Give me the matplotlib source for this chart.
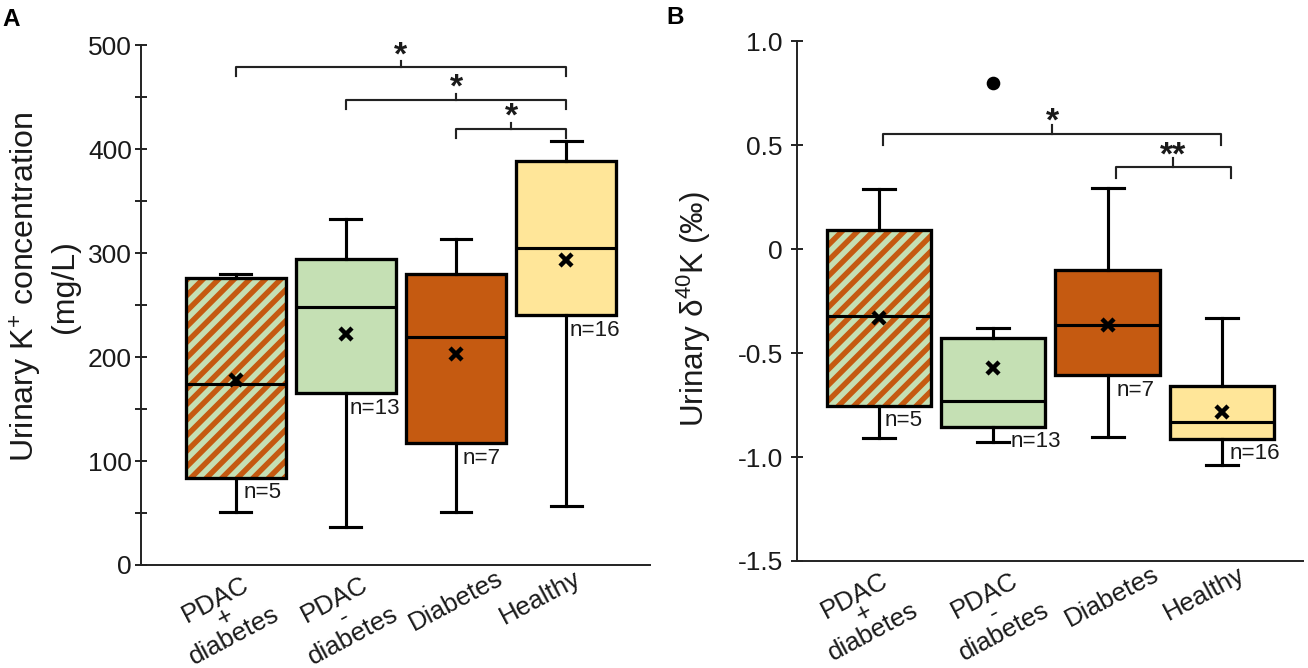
import matplotlib
matplotlib.use("Agg")
import matplotlib.pyplot as plt
from matplotlib.patches import PathPatch
from matplotlib.transforms import ScaledTranslation

plt.rcParams['font.family'] = ['Liberation Sans', 'DejaVu Sans']
plt.rcParams['mathtext.fontset'] = 'custom'
plt.rcParams['mathtext.rm'] = 'Liberation Sans'
plt.rcParams['mathtext.it'] = 'Liberation Sans:italic'
plt.rcParams['mathtext.bf'] = 'Liberation Sans:bold'
plt.rcParams['hatch.linewidth'] = 2.8

DPI = 140

# groups and sample sizes
groups = ["PDAC\n+\ndiabetes", "PDAC\n-\ndiabetes", "Diabetes", "Healthy"]
n_counts = [5, 13, 7, 16]
positions = [1, 2, 3, 4]

# panel A: urinary K+ concentration (mg/L)
k_low = [51, 37, 51, 57]
k_q1 = [84, 165, 117, 240]
k_med = [174, 248, 219, 305]
k_q3 = [276, 294, 280, 388]
k_high = [280, 333, 313, 408]
k_mean = [178, 222, 203, 293]
k_fliers = [[], [], [], []]

# panel B: urinary d40K (permil)
d_low = [-0.91, -0.925, -0.905, -1.04]
d_q1 = [-0.753, -0.854, -0.607, -0.912]
d_med = [-0.319, -0.73, -0.366, -0.833]
d_q3 = [0.093, -0.428, -0.099, -0.658]
d_high = [0.292, -0.379, 0.296, -0.331]
d_mean = [-0.331, -0.572, -0.366, -0.784]
d_fliers = [[], [0.80], [], []]

# significance brackets: (left x, right x, height, label)
k_sig = [(1, 4, 478.5, "*"), (2, 4, 447.4, "*"), (3, 4, 419.5, "*")]
d_sig = [(1.04, 3.99, 0.556, "*"), (3.07, 4.08, 0.396, "**")]

GREEN = '#C5E0B4'
ORANGE = '#C55A11'
YELLOW = '#FFE699'
fills = [GREEN, GREEN, ORANGE, YELLOW]
INK = '#1a1a1a'


def stripe_box(ax, box):
    # green box with orange diagonal stripes, outline on top
    path = box.get_path()
    tr = box.get_transform()
    z = box.get_zorder()
    box.set_edgecolor('none')
    ax.add_patch(PathPatch(path, transform=tr, facecolor='none', edgecolor=ORANGE,
                           hatch='///', lw=0, zorder=z + 0.01))
    ax.add_patch(PathPatch(path, transform=tr, facecolor='none', edgecolor='black',
                           lw=1.7, zorder=z + 0.02))


def draw_boxes(ax, low, q1, med, q3, high, mean, fliers, width):
    stats = []
    for a, b, c, d, e, f, g in zip(low, q1, med, q3, high, mean, fliers):
        stats.append(dict(whislo=a, q1=b, med=c, q3=d, whishi=e, mean=f, fliers=g))
    bp = ax.bxp(stats, positions=positions, widths=width, capwidths=0.28,
                patch_artist=True, showmeans=True,
                boxprops=dict(linewidth=1.7, edgecolor='black'),
                whiskerprops=dict(linewidth=1.6, color='black'),
                capprops=dict(linewidth=1.6, color='black'),
                medianprops=dict(linewidth=1.6, color='black'),
                meanprops=dict(marker='x', markersize=6.5, markeredgewidth=2.3,
                               markeredgecolor='black'),
                flierprops=dict(marker='o', markersize=6, markerfacecolor='black',
                                markeredgecolor='black'))
    for box, c in zip(bp['boxes'], fills):
        box.set_facecolor(c)
    stripe_box(ax, bp['boxes'][0])


def add_bracket(ax, x1, x2, y, label, drop, rise, star_dy):
    xm = (x1 + x2) / 2
    kw = dict(color='#222222', lw=1.1, clip_on=False, solid_joinstyle='round')
    ax.plot([x1, x1, x2, x2], [y - drop, y, y, y - drop], **kw)
    ax.plot([xm, xm], [y, y + rise], **kw)
    ax.annotate(label, (xm, y + rise), xytext=(0, star_dy), textcoords='offset pixels',
                ha='center', va='baseline', fontsize=17.5, fontweight='bold',
                color=INK, annotation_clip=False)


def add_counts(ax, q1, dxs):
    for p, q, n, dx in zip(positions, q1, n_counts, dxs):
        ax.annotate(f"n={n}", (p, q), xytext=(dx, -15), textcoords='offset pixels',
                    ha='left', va='center', fontsize=11.5, color=INK)


def style_axes(ax, fig, shifts):
    for s in ['top', 'right']:
        ax.spines[s].set_visible(False)
    for s in ['left', 'bottom']:
        ax.spines[s].set_linewidth(1.0)
        ax.spines[s].set_color('#222222')
    ax.set_xticks(positions)
    ax.set_xticklabels(groups, rotation=28, ha='center', va='top',
                       linespacing=0.8, fontsize=13.4, color=INK)
    ax.tick_params(axis='x', length=0, pad=0.5)
    for lab, dx in zip(ax.get_xticklabels(), shifts):
        lab.set_transform(lab.get_transform() + ScaledTranslation(dx / DPI, 0, fig.dpi_scale_trans))


fig = plt.figure(figsize=(1308 / DPI, 668 / DPI), dpi=DPI)

# ---- panel A
axA = fig.add_axes([0.1078, 0.1542, 0.3891, 0.7784])
draw_boxes(axA, k_low, k_q1, k_med, k_q3, k_high, k_mean, k_fliers, 0.91)
axA.set_xlim(0.14, 4.76)
axA.set_ylim(0, 500)
axA.set_yticks(range(0, 501, 100))
axA.set_yticks(range(50, 500, 100), minor=True)
axA.tick_params(axis='y', which='both', direction='inout', length=6.5, width=1.0,
                color='#222222', labelsize=13.6, labelcolor=INK, pad=1.5)
style_axes(axA, fig, [-11, -2, 0, -26])
axA.set_ylabel("Urinary K$^{\\mathregular{+}}$ concentration\n(mg/L)", fontsize=16.5,
               linespacing=1.25, color=INK)
axA.yaxis.set_label_coords(-0.12, 0.535)
for x1, x2, y, lab in k_sig:
    add_bracket(axA, x1, x2, y, lab, 8.5, 5.8, -3)
add_counts(axA, k_q1, [8, 4, 7, 3])

# ---- panel B
axB = fig.add_axes([0.6093, 0.1602, 0.3869, 0.7777])
draw_boxes(axB, d_low, d_q1, d_med, d_q3, d_high, d_mean, d_fliers, 0.915)
axB.set_xlim(0.284, 4.71)
axB.set_ylim(-1.5, 1.0)
axB.set_yticks([-1.5, -1.0, -0.5, 0, 0.5, 1.0])
axB.set_yticklabels(["-1.5", "-1.0", "-0.5", "0", "0.5", "1.0"])
axB.tick_params(axis='y', direction='inout', length=6.5, width=1.0,
                color='#222222', labelsize=13.6, labelcolor=INK, pad=4)
style_axes(axB, fig, [-15, 1, 4, -18])
axB.set_ylabel("Urinary \u03b4$^{\\mathregular{40}}$K (\u2030)", fontsize=16.2, color=INK)
axB.yaxis.set_label_coords(-0.166, 0.485)
for x1, x2, y, lab in d_sig:
    add_bracket(axB, x1, x2, y, lab, 0.052, 0.042, -6)
add_counts(axB, d_q1, [6, 17, 9, 8])

fig.text(2 / 1308, 1 - 25.5 / 668, "A", fontsize=12.5, fontweight='bold', va='baseline')
fig.text(666 / 1308, 1 - 23.6 / 668, "B", fontsize=12.5, fontweight='bold', va='baseline')

fig.savefig("out.png", dpi=DPI)
